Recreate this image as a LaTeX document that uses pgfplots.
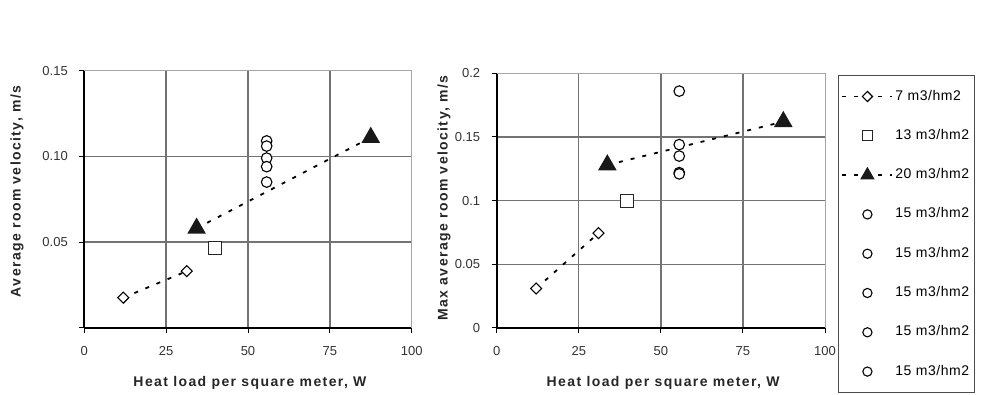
\documentclass[border=0pt]{standalone}
\usepackage{fontspec}
\setmainfont{Liberation Sans}
\usepackage{pgfplots}
\pgfplotsset{compat=1.18}
\newcommand{\ticksfont}{\fontsize{13}{15}\selectfont}
\newcommand{\labfont}{\fontsize{14}{16}\selectfont\bfseries\addfontfeatures{LetterSpace=10}}
\newcommand{\legfont}{\fontsize{14}{16}\selectfont\addfontfeatures{LetterSpace=4}}
\pgfplotsset{
  base/.style={
    scale only axis,
    xmin=0, xmax=100,
    xtick={0,25,50,75}, extra x ticks={100},
    extra x tick style={grid=none},
    grid=major,
    grid style={line width=1.4pt, black!55},
    axis x line*=bottom, axis y line*=left,
    axis line style={line width=1.8pt, black, -},
    tick align=outside, major tick length=5pt,
    tick style={black, line width=1pt},
    tick label style={font=\ticksfont, color=black!80},
    /pgf/number format/assume math mode=true,
    scaled y ticks=false,
    xticklabel style={yshift=-10pt},
    yticklabel style={xshift=-8pt},
    label style={font=\labfont, color=black!85},
    clip=false,
  },
  dl/.style={black, line width=1.8pt, dash pattern=on 4pt off 8pt},
  dmk/.style={mark=square*, mark size=3.9pt, mark options={rotate=45, fill=white, draw=black, line width=1.1pt, solid},
    legend image post style={mark size=3.6pt}},
  smk/.style={mark=square*, mark size=6.5pt, mark options={fill=white, draw=black!85, line width=1.2pt, solid},
    legend image post style={mark size=5pt}},
  tmk/.style={mark=triangle*, mark size=9pt, mark options={fill=black!90, draw=black!90, solid},
    legend image post style={mark size=6.5pt}},
  cmk/.style={only marks, mark=*, mark size=5.3pt, mark options={fill=white, draw=black, line width=1.1pt},
    legend image post style={mark size=4.6pt}},
}
\begin{document}
\begin{tikzpicture}
\useasboundingbox (0pt,0pt) rectangle (990pt,395pt);
% ---------- left axis ----------
\begin{axis}[base,
  at={(84.3pt,67.3pt)}, anchor=south west,
  width=327.4pt, height=257pt,
  ymin=0, ymax=0.15,
  ytick={0,0.05,0.10}, yticklabels={,0.05,0.10},
  extra y ticks={0.15}, extra y tick labels={0.15},
  extra y tick style={grid=none},
  xlabel={Heat load per square meter, W},
  ylabel={Average room velocity, m/s},
  xlabel style={at={(axis description cs:0.506,-0.215)}, anchor=center},
  ylabel style={at={(axis description cs:-0.2056,0.53)}, anchor=center, rotate=0},
]
\draw[black!35, line width=1pt] (rel axis cs:0,1) -- (rel axis cs:1,1) -- (rel axis cs:1,0);
\addplot[dl, dmk] coordinates {(11.9,0.0175) (31.3,0.033)};
\addplot[only marks, smk] coordinates {(39.9,0.0467)};
\addplot[dl, tmk] coordinates {(34.3,0.058) (87.5,0.111)};
\addplot[cmk] coordinates {(55.7,0.109)};
\addplot[cmk] coordinates {(55.7,0.106)};
\addplot[cmk] coordinates {(55.7,0.099)};
\addplot[cmk] coordinates {(55.7,0.094)};
\addplot[cmk] coordinates {(55.7,0.085)};
\end{axis}
% ---------- right axis ----------
\begin{axis}[base,
  at={(496.7pt,67pt)}, anchor=south west,
  width=328.3pt, height=254.7pt,
  ymin=0, ymax=0.2,
  ytick={0,0.05,0.1,0.15}, yticklabels={0,0.05,0.1,0.15},
  extra y ticks={0.2}, extra y tick labels={0.2},
  extra y tick style={grid=none},
  xlabel={Heat load per square meter, W},
  ylabel={Max average room velocity, m/s},
  xlabel style={at={(axis description cs:0.507,-0.217)}, anchor=center},
  ylabel style={at={(axis description cs:-0.1605,0.51)}, anchor=center, rotate=0},
  legend style={at={(1.0396,0.9933)}, anchor=north west, draw=black!70,
    line width=1pt, font=\legfont, inner xsep=3pt, inner ysep=11.5pt, row sep=20.3pt,
    nodes={inner xsep=2pt, inner ysep=3pt, text height=10pt, text depth=3pt},
    cells={anchor=west}},
  legend cell align=left,
  legend image code/.code={\draw[mark repeat=2,mark phase=2,#1] plot coordinates {(0pt,0pt) (25pt,0pt) (50pt,0pt)};},
]
\draw[black!35, line width=1pt] (rel axis cs:0,1) -- (rel axis cs:1,1) -- (rel axis cs:1,0);
\addplot[dl, dmk] coordinates {(12.0,0.031) (31.0,0.0745)};
\addlegendentry{7 m3/hm2}
\addplot[only marks, smk] coordinates {(39.6,0.100)};
\addlegendentry{13 m3/hm2}
\addplot[dl, tmk] coordinates {(33.7,0.128) (87.3,0.162)};
\addlegendentry{20 m3/hm2}
\addplot[cmk] coordinates {(55.6,0.186)};
\addlegendentry{15 m3/hm2}
\addplot[cmk] coordinates {(55.6,0.144)};
\addlegendentry{15 m3/hm2}
\addplot[cmk] coordinates {(55.6,0.135)};
\addlegendentry{15 m3/hm2}
\addplot[cmk] coordinates {(55.6,0.122)};
\addlegendentry{15 m3/hm2}
\addplot[cmk] coordinates {(55.6,0.121)};
\addlegendentry{15 m3/hm2}
\end{axis}
\end{tikzpicture}
\end{document}
